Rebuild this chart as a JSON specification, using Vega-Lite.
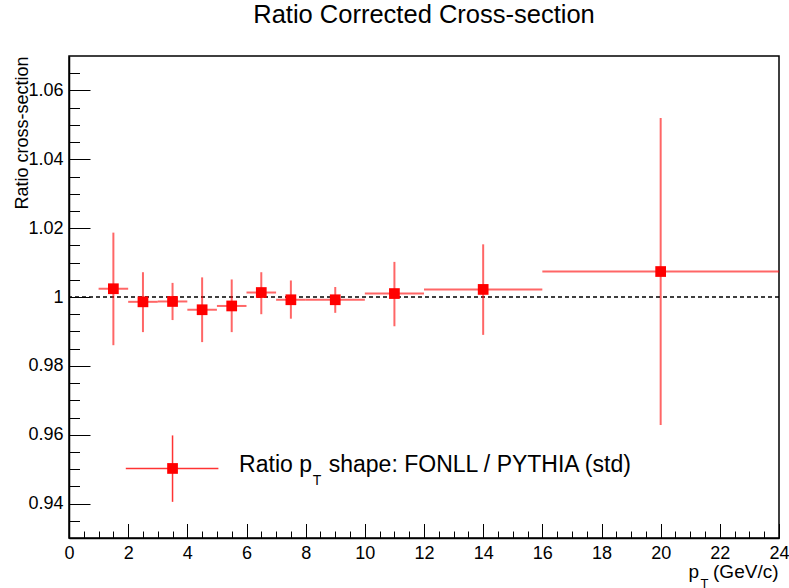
{
  "$schema": "https://vega.github.io/schema/vega-lite/v6.json",
  "width": 710,
  "height": 482,
  "autosize": "none",
  "padding": {"left": 69, "top": 56, "right": 10, "bottom": 50},
  "background": "white",
  "title": {
    "text": "Ratio Corrected Cross-section",
    "fontSize": 25.5,
    "font": "Liberation Sans",
    "fontWeight": "normal",
    "color": "black",
    "anchor": "middle",
    "frame": "group",
    "baseline": "alphabetic",
    "offset": 8
  },
  "config": {
    "font": "Liberation Sans",
    "view": {"stroke": "black", "strokeWidth": 1.5},
    "axis": {
      "grid": false,
      "labelFont": "Liberation Sans",
      "titleFont": "Liberation Sans",
      "labelColor": "black",
      "titleColor": "black",
      "tickColor": "black",
      "domainColor": "black",
      "titleFontWeight": "normal",
      "labelFlush": false,
      "labelOverlap": false
    }
  },
  "resolve": {"axis": {"x": "independent", "y": "independent"}},
  "layer": [
    {
      "data": {"values": [{}]},
      "mark": {"type": "rule", "color": "black", "strokeWidth": 1.3, "strokeDash": [4, 3]},
      "encoding": {
        "y": {"datum": 1, "type": "quantitative", "scale": {"domain": [0.93, 1.07], "nice": false, "zero": false}, "axis": null}
      }
    },
    {
      "data": {"name": "pts"},
      "mark": {"type": "rule", "color": "#ff0000", "strokeWidth": 2, "opacity": 0.6},
      "encoding": {
        "x": {
          "field": "lo", "type": "quantitative",
          "scale": {"domain": [0, 24], "nice": false, "zero": false},
          "axis": {
            "orient": "bottom",
            "values": [0, 2, 4, 6, 8, 10, 12, 14, 16, 18, 20, 22, 24],
            "format": "d",
            "tickSize": -14.5,
            "tickWidth": 1,
            "labelFontSize": 18,
            "labelPadding": 21,
            "domain": true,
            "domainWidth": 1.5,
            "title": "p",
            "titleFontSize": 19,
            "titleX": 619,
            "titleY": 39,
            "titleAlign": "left",
            "titleBaseline": "alphabetic",
            "titleAngle": 0
          }
        },
        "x2": {"field": "hi"},
        "y": {
          "field": "r", "type": "quantitative",
          "scale": {"domain": [0.93, 1.07], "nice": false, "zero": false},
          "axis": {
            "orient": "left",
            "values": [0.94, 0.96, 0.98, 1, 1.02, 1.04, 1.06],
            "format": "~g",
            "tickSize": -21,
            "tickWidth": 1,
            "labelFontSize": 18,
            "labelPadding": 27,
            "domain": true,
            "domainWidth": 1.5,
            "title": "Ratio cross-section",
            "titleFontSize": 18,
            "titleAngle": 270,
            "titleAlign": "right",
            "titleBaseline": "alphabetic",
            "titleX": -42,
            "titleY": 0
          }
        }
      }
    },
    {
      "data": {"name": "pts"},
      "mark": {"type": "rule", "color": "#ff0000", "strokeWidth": 2, "opacity": 0.6},
      "encoding": {
        "x": {
          "field": "pt", "type": "quantitative",
          "scale": {"domain": [0, 24], "nice": false, "zero": false},
          "axis": {
            "orient": "bottom",
            "values": [0.5, 1, 1.5, 2.5, 3, 3.5, 4.5, 5, 5.5, 6.5, 7, 7.5, 8.5, 9, 9.5, 10.5, 11, 11.5, 12.5, 13, 13.5, 14.5, 15, 15.5, 16.5, 17, 17.5, 18.5, 19, 19.5, 20.5, 21, 21.5, 22.5, 23, 23.5],
            "tickSize": -7,
            "tickWidth": 1,
            "labels": false,
            "domain": false,
            "title": "(GeV/c)",
            "titleFontSize": 19,
            "titleX": 709,
            "titleY": 39,
            "titleAlign": "right",
            "titleBaseline": "alphabetic",
            "titleAngle": 0
          }
        },
        "y": {
          "field": "rlo", "type": "quantitative",
          "scale": {"domain": [0.93, 1.07], "nice": false, "zero": false},
          "axis": {
            "orient": "left",
            "values": [0.935, 0.945, 0.95, 0.955, 0.965, 0.97, 0.975, 0.985, 0.99, 0.995, 1.005, 1.01, 1.015, 1.025, 1.03, 1.035, 1.045, 1.05, 1.055, 1.065],
            "tickSize": -10.5,
            "tickWidth": 1,
            "labels": false,
            "domain": false,
            "title": null
          }
        },
        "y2": {"field": "rhi"}
      }
    },
    {
      "data": {"name": "pts"},
      "mark": {"type": "square", "filled": true, "color": "#ff0000", "size": 115, "opacity": 1},
      "encoding": {
        "x": {
          "field": "pt", "type": "quantitative",
          "scale": {"domain": [0, 24], "nice": false, "zero": false},
          "axis": {
            "orient": "bottom",
            "ticks": false,
            "labels": false,
            "domain": false,
            "title": "T",
            "titleFontSize": 13,
            "titleX": 631,
            "titleY": 49,
            "titleAlign": "left",
            "titleBaseline": "alphabetic",
            "titleAngle": 0
          }
        },
        "y": {"field": "r", "type": "quantitative", "scale": {"domain": [0.93, 1.07], "nice": false, "zero": false}, "axis": null}
      }
    },
    {
      "data": {"values": [{}]},
      "mark": {"type": "rule", "color": "#ff0000", "strokeWidth": 1.5, "opacity": 0.8},
      "encoding": {
        "x": {"datum": 1.92, "type": "quantitative", "scale": {"domain": [0, 24], "nice": false, "zero": false}, "axis": null},
        "x2": {"datum": 5.05},
        "y": {"datum": 0.9502, "type": "quantitative", "scale": {"domain": [0.93, 1.07], "nice": false, "zero": false}, "axis": null}
      }
    },
    {
      "data": {"values": [{}]},
      "mark": {"type": "rule", "color": "#ff0000", "strokeWidth": 1.5, "opacity": 0.8},
      "encoding": {
        "x": {"datum": 3.5, "type": "quantitative", "scale": {"domain": [0, 24], "nice": false, "zero": false}, "axis": null},
        "y": {"datum": 0.9405, "type": "quantitative", "scale": {"domain": [0.93, 1.07], "nice": false, "zero": false}, "axis": null},
        "y2": {"datum": 0.9598}
      }
    },
    {
      "data": {"values": [{}]},
      "mark": {"type": "square", "filled": true, "color": "#ff0000", "size": 115, "opacity": 1},
      "encoding": {
        "x": {"datum": 3.5, "type": "quantitative", "scale": {"domain": [0, 24], "nice": false, "zero": false}, "axis": null},
        "y": {"datum": 0.9502, "type": "quantitative", "scale": {"domain": [0.93, 1.07], "nice": false, "zero": false}, "axis": null}
      }
    },
    {
      "data": {"values": [{}]},
      "mark": {"type": "text", "text": "Ratio p", "font": "Liberation Sans", "fontSize": 23, "color": "black", "align": "left", "baseline": "alphabetic"},
      "encoding": {
        "x": {"datum": 5.75, "type": "quantitative", "scale": {"domain": [0, 24], "nice": false, "zero": false}, "axis": null},
        "y": {"datum": 0.9491, "type": "quantitative", "scale": {"domain": [0.93, 1.07], "nice": false, "zero": false}, "axis": null}
      }
    },
    {
      "data": {"values": [{}]},
      "mark": {"type": "text", "text": "T", "font": "Liberation Sans", "fontSize": 14, "color": "black", "align": "left", "baseline": "alphabetic"},
      "encoding": {
        "x": {"datum": 8.24, "type": "quantitative", "scale": {"domain": [0, 24], "nice": false, "zero": false}, "axis": null},
        "y": {"datum": 0.9454, "type": "quantitative", "scale": {"domain": [0.93, 1.07], "nice": false, "zero": false}, "axis": null}
      }
    },
    {
      "data": {"values": [{}]},
      "mark": {"type": "text", "text": "shape: FONLL / PYTHIA (std)", "font": "Liberation Sans", "fontSize": 23, "color": "black", "align": "left", "baseline": "alphabetic"},
      "encoding": {
        "x": {"datum": 8.78, "type": "quantitative", "scale": {"domain": [0, 24], "nice": false, "zero": false}, "axis": null},
        "y": {"datum": 0.9491, "type": "quantitative", "scale": {"domain": [0.93, 1.07], "nice": false, "zero": false}, "axis": null}
      }
    }
  ],
  "datasets": {
    "pts": [
      {"pt": 1.5, "lo": 1, "hi": 2, "r": 1.0024, "rlo": 0.9860, "rhi": 1.0187},
      {"pt": 2.5, "lo": 2, "hi": 3, "r": 0.9986, "rlo": 0.9898, "rhi": 1.0072},
      {"pt": 3.5, "lo": 3, "hi": 4, "r": 0.9987, "rlo": 0.9933, "rhi": 1.0041},
      {"pt": 4.5, "lo": 4, "hi": 5, "r": 0.9963, "rlo": 0.9869, "rhi": 1.0057},
      {"pt": 5.5, "lo": 5, "hi": 6, "r": 0.9974, "rlo": 0.9898, "rhi": 1.0051},
      {"pt": 6.5, "lo": 6, "hi": 7, "r": 1.0013, "rlo": 0.9950, "rhi": 1.0072},
      {"pt": 7.5, "lo": 7, "hi": 8, "r": 0.9992, "rlo": 0.9937, "rhi": 1.0048},
      {"pt": 9, "lo": 8, "hi": 10, "r": 0.9992, "rlo": 0.9954, "rhi": 1.0029},
      {"pt": 11, "lo": 10, "hi": 12, "r": 1.0010, "rlo": 0.9915, "rhi": 1.0102},
      {"pt": 14, "lo": 12, "hi": 16, "r": 1.0022, "rlo": 0.9890, "rhi": 1.0153},
      {"pt": 20, "lo": 16, "hi": 24, "r": 1.0074, "rlo": 0.9628, "rhi": 1.0520}
    ]
  }
}
